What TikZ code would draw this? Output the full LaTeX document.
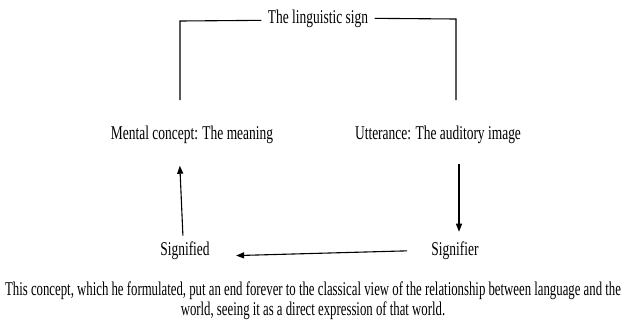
\documentclass[tikz,border=0pt]{standalone}
\usepackage{fontspec}
\setmainfont{Liberation Serif}
\usetikzlibrary{arrows.meta}
\tikzset{txt/.style={font=\fontsize{19.5}{20}\selectfont,xscale=0.69,inner sep=3pt},
	arr/.style={-{Triangle[length=8pt,width=6pt]}}}

\begin{document}
\begin{tikzpicture}[x=1pt,y=-1pt,line width=1.1pt]
	\useasboundingbox (0,0) rectangle (627,322);
	\node[txt,anchor=base] (sign) at (318,23) {The linguistic sign};
	\node[txt,anchor=base] (mental) at (192,139) {Mental concept: The meaning};
	\node[txt,anchor=base] (utter) at (438,139) {Utterance: The auditory image};
	\node[txt,anchor=base] (signified) at (185,255) {Signified};
	\node[txt,anchor=base] (signifier) at (455,255) {Signifier};
	\node[txt,xscale=0.95,anchor=north,align=center] (caption) at (313,278) {This concept, which he formulated, put an end forever to the classical view of the relationship between language and the\\ world, seeing it as a direct expression of that world.};
	\coordinate (tl) at (180,21);
	\coordinate (bl) at (180,100);
	\coordinate (tr) at (456,19);
	\coordinate (br) at (456,100);
	\draw ([xshift=-4pt,yshift=-2pt]sign.west) -- (tl) -- (bl);
	\draw ([xshift=4pt]sign.east) -- (tr) -- (br);
	\draw[arr,shorten <=2pt,shorten >=19pt] ([xshift=-2pt]signified.north) -- ([xshift=-6pt]signified.north |- mental.south);
	\draw[arr,shorten <=17pt,shorten >=6pt] ([xshift=4pt]signifier.north |- utter.south) -- ([xshift=4pt]signifier.north);
	\draw[arr,shorten <=22pt,shorten >=24pt] (signifier.west) -- ([yshift=-6pt]signified.east);
\end{tikzpicture}
\end{document}
